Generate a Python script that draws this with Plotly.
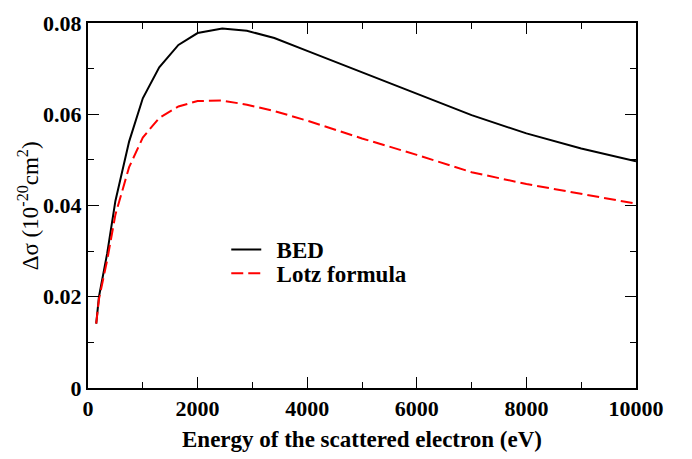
import plotly.graph_objects as go

energy_ev = [150, 200, 350, 500, 750, 1000, 1300, 1650, 2000, 2450, 2900, 3400,
             4000, 5000, 6000, 7000, 8000, 9000, 10000]
bed = [0.0141, 0.0200, 0.0295, 0.0410, 0.0540, 0.0635, 0.0703, 0.0752, 0.0778,
       0.0788, 0.0783, 0.0767, 0.0739, 0.0692, 0.0646, 0.0598, 0.0558, 0.0525, 0.0497]
lotz = [0.0141, 0.0195, 0.0280, 0.0380, 0.0484, 0.0549, 0.0592, 0.0617, 0.0629,
        0.0630, 0.0621, 0.0607, 0.0586, 0.0547, 0.0511, 0.0473, 0.0447, 0.0425, 0.0404]

x_tickvals = [0, 2000, 4000, 6000, 8000, 10000]
x_ticktext = ["0", "2000", "4000", "6000", "8000", "10000"]
y_tickvals = [0, 0.02, 0.04, 0.06, 0.08]
y_ticktext = ["0", "0.02", "0.04", "0.06", "0.08"]

serif = "Liberation Serif"
gap = "\u00a0\u2009"

fig = go.Figure()
fig.add_trace(go.Scatter(x=energy_ev, y=bed, mode="lines", name=gap + "BED",
                         line=dict(color="black", width=2), legend="legend"))
fig.add_trace(go.Scatter(x=energy_ev, y=lotz, mode="lines", name=gap + "Lotz formula",
                         line=dict(color="red", width=2, dash="12px,5px"), legend="legend2"))

axis_common = dict(showline=True, linecolor="black", linewidth=2, mirror="ticks",
                   ticks="inside", ticklen=11, tickwidth=1, tickcolor="black",
                   showgrid=False, zeroline=False,
                   tickfont=dict(family=serif, size=22, color="black", weight="bold"))

fig.update_xaxes(range=[0, 10000], tickvals=x_tickvals, ticktext=x_ticktext,
                 minor=dict(dtick=1000, ticklen=6, ticks="inside", tickcolor="black", tickwidth=1),
                 title=dict(text="Energy of the scattered electron (eV)",
                            font=dict(family=serif, size=23, color="black", weight="bold"),
                            standoff=10),
                 **axis_common)
fig.update_yaxes(range=[0, 0.08], tickvals=y_tickvals, ticktext=y_ticktext,
                 minor=dict(dtick=0.01, ticklen=6, ticks="inside", tickcolor="black", tickwidth=1),
                 **axis_common)

fig.add_annotation(text="Δσ (10<sup>-20</sup>cm<sup>2</sup>)",
                   xref="paper", yref="paper", x=-0.108, y=0.5,
                   xanchor="center", yanchor="middle", textangle=-90, showarrow=False,
                   font=dict(family=serif, size=23, color="black"))

legend_font = dict(family=serif, size=23, color="black", weight="bold")
fig.update_layout(
    width=692, height=459,
    margin=dict(l=88, r=56, t=11, b=66),
    plot_bgcolor="white", paper_bgcolor="white",
    showlegend=True,
    legend=dict(x=0.2523, y=0.3796, xanchor="left", yanchor="middle",
                bgcolor="rgba(0,0,0,0)", font=legend_font),
    legend2=dict(x=0.2523, y=0.314, xanchor="left", yanchor="middle",
                 bgcolor="rgba(0,0,0,0)", font=legend_font),
)

fig.write_html("out.html")
